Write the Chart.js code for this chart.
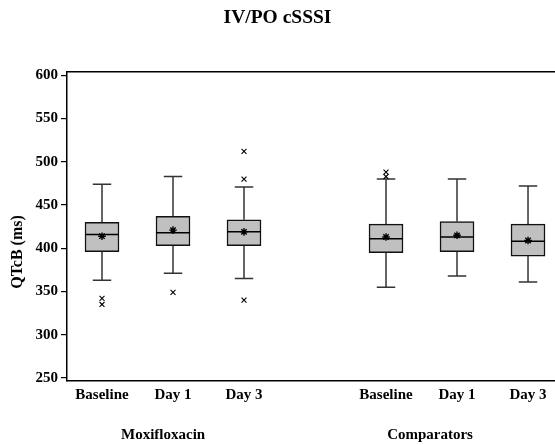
<!DOCTYPE html>
<html>
<head>
<meta charset="utf-8">
<script src="https://cdn.jsdelivr.net/npm/chart.js@4"></script>
<style>
    html, body { margin: 0; padding: 0; background: #fff; }
    #wrap { width: 555px; height: 445px; }
</style>
</head>
<body>
<div id="wrap"><canvas id="chartQtc"></canvas></div>
<script>
// Vị trí các hộp trên trục x (có khoảng trống giữa 2 nhóm)
const positions = [1, 2, 3, 5, 6, 7];
const visitLabels = ['Baseline', 'Day 1', 'Day 3', 'Baseline', 'Day 1', 'Day 3'];
const groupLabels = ['Moxifloxacin', 'Comparators'];
const groupTicks = [1.86, 5.62];
const yTicks = [250, 300, 350, 400, 450, 500, 550, 600];

// Số liệu (ms)
const whiskerLow  = [363, 371, 365, 355, 368, 361];
const q1          = [396, 403, 403, 395, 396, 391];
const median      = [416, 418, 419, 411, 413, 408];
const q3          = [430, 437, 433, 428, 431, 428];
const whiskerHigh = [474, 483, 471, 480, 480, 472];
const means       = [414, 421, 419, 413, 415, 409];
const outliers    = [[342, 335], [349], [512, 480, 340], [488, 483], [], []];

const X_MIN = 0.507, X_MAX = 7.38;
const capHalf = 0.13;   // nửa bề rộng thanh chặn râu
const boxHalf = 0.24;   // nửa bề rộng hộp (cho đường trung vị)
const serif = '"Liberation Serif", "Times New Roman", serif';

const boxData = positions.map((p, i) => ({ x: p, y: [q1[i], q3[i]] }));

const whiskerData = [];
positions.forEach((p, i) => {
    whiskerData.push({ x: p, y: whiskerLow[i] }, { x: p, y: q1[i] }, { x: p, y: null });
    whiskerData.push({ x: p, y: q3[i] }, { x: p, y: whiskerHigh[i] }, { x: p, y: null });
    whiskerData.push({ x: p - capHalf, y: whiskerHigh[i] }, { x: p + capHalf, y: whiskerHigh[i] }, { x: p, y: null });
    whiskerData.push({ x: p - capHalf, y: whiskerLow[i] }, { x: p + capHalf, y: whiskerLow[i] }, { x: p, y: null });
});

const medianData = [];
positions.forEach((p, i) => {
    medianData.push({ x: p - boxHalf, y: median[i] }, { x: p + boxHalf, y: median[i] }, { x: p, y: null });
});

const meanData = positions.map((p, i) => ({ x: p, y: means[i] }));
const outlierData = [];
positions.forEach((p, i) => outliers[i].forEach(v => outlierData.push({ x: p, y: v })));

// Tiêu đề trục y vẽ tay (lệch xuống so với tâm vùng vẽ)
const yTitlePlugin = {
    id: 'yTitle',
    afterDraw(chart) {
        const ctx = chart.ctx;
        ctx.save();
        ctx.translate(18, 252);
        ctx.rotate(-Math.PI / 2);
        ctx.font = 'bold 16px ' + serif;
        ctx.fillStyle = '#000';
        ctx.textAlign = 'center';
        ctx.textBaseline = 'middle';
        ctx.fillText('QTcB (ms)', 0, 0);
        ctx.restore();
    }
};

document.addEventListener("DOMContentLoaded", function () {
    const ctx = document.getElementById('chartQtc').getContext('2d');
    new Chart(ctx, {
        type: 'bar',
        data: {
            datasets: [
                {
                    type: 'scatter', label: 'Outliers', data: outlierData, order: 1,
                    pointStyle: 'crossRot', radius: 3.5, borderColor: '#000', borderWidth: 1.1, backgroundColor: '#000'
                },
                {
                    type: 'scatter', label: 'Mean', data: meanData, order: 1,
                    pointStyle: 'star', radius: 3.8, borderColor: '#000', borderWidth: 1.4, backgroundColor: '#000'
                },
                {
                    type: 'line', label: 'Median', data: medianData, order: 2,
                    borderColor: '#000', borderWidth: 1.5, pointRadius: 0, spanGaps: false, tension: 0
                },
                {
                    type: 'line', label: 'Whiskers', data: whiskerData, order: 2,
                    borderColor: '#333', borderWidth: 1.5, pointRadius: 0, spanGaps: false, tension: 0
                },
                {
                    type: 'bar', label: 'IQR', data: boxData, order: 3,
                    backgroundColor: '#c0c0c0', borderColor: '#111', borderWidth: 1.5,
                    borderSkipped: false, barThickness: 34
                }
            ]
        },
        options: {
            responsive: true,
            maintainAspectRatio: false,
            animation: false,
            layout: { padding: 0, autoPadding: false },
            plugins: {
                legend: { display: false },
                tooltip: { enabled: false },
                title: {
                    display: true, text: 'IV/PO cSSSI', color: '#000',
                    font: { family: serif, size: 19.5, weight: 'bold' },
                    padding: { top: 6, bottom: 0 }
                }
            },
            scales: {
                x: {
                    type: 'linear', position: 'bottom', min: X_MIN, max: X_MAX, offset: false, weight: 0,
                    afterBuildTicks: s => { s.ticks = positions.map(v => ({ value: v })); },
                    afterFit: s => { s.height = 30; },
                    ticks: {
                        color: '#000', padding: 5, maxRotation: 0, autoSkip: false,
                        font: { family: serif, size: 15, weight: 'bold' },
                        callback: v => visitLabels[positions.indexOf(v)]
                    },
                    grid: { display: false, drawTicks: false },
                    border: { display: true, color: '#000', width: 1.5 }
                },
                x2: {
                    type: 'linear', position: 'bottom', min: X_MIN, max: X_MAX, offset: false, weight: 1,
                    afterBuildTicks: s => { s.ticks = groupTicks.map(v => ({ value: v })); },
                    afterFit: s => { s.height = 34; },
                    ticks: {
                        color: '#000', padding: 15, maxRotation: 0, autoSkip: false,
                        font: { family: serif, size: 15, weight: 'bold' },
                        callback: v => groupLabels[groupTicks.indexOf(v)]
                    },
                    grid: { display: false, drawTicks: false },
                    border: { display: false }
                },
                xTop: {
                    type: 'linear', position: 'top', min: X_MIN, max: X_MAX, offset: false,
                    afterFit: s => { s.height = 42; },
                    ticks: { display: false },
                    grid: { display: false, drawTicks: false },
                    border: { display: true, color: '#000', width: 1.5 }
                },
                y: {
                    min: 246.5, max: 604.6,
                    afterBuildTicks: s => { s.ticks = yTicks.map(v => ({ value: v })); },
                    afterFit: s => { s.width = 67; },
                    ticks: {
                        color: '#000', padding: 3,
                        font: { family: serif, size: 15, weight: 'bold' }
                    },
                    grid: { display: true, drawOnChartArea: false, tickLength: 6, color: '#000', lineWidth: 1.2 },
                    border: { display: true, color: '#000', width: 1.5 }
                }
            }
        },
        plugins: [yTitlePlugin]
    });
});
</script>
</body>
</html>
